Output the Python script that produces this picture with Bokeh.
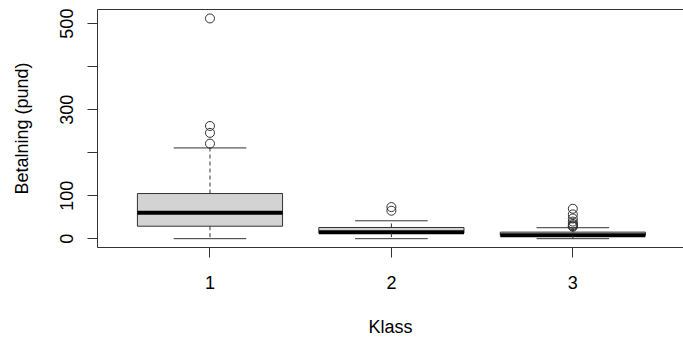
from bokeh.plotting import figure
from bokeh.models import FixedTicker, LinearAxis, Range1d
from bokeh.embed import file_html
from bokeh.resources import INLINE

# ---- data ----
klass = [1, 2, 3]
lower_whisker = [0.0, 0.0, 0.0]
q1 = [29.0, 13.0, 7.75]
median = [60.5, 15.0, 8.05]
q3 = [105.0, 26.0, 15.25]
upper_whisker = [211.0, 41.6, 25.5]
outliers_1 = [221.0, 246.0, 262.0, 512.0]
outliers_2 = [65.0, 73.5]
outliers_3 = [27.9, 29.1, 31.3, 34.4, 39.7, 46.9, 56.5, 69.6]
y_ticks = [0, 100, 200, 300, 400, 500]
y_tick_labels = {200: "", 400: ""}
x_tick_labels = {1: "1", 2: "2", 3: "3"}

FONT = "Liberation Sans"
LINE = "#333333"
TXT = "#000000"
BOX_W = 0.8
CAP_W = 0.4

p = figure(width=683, height=340, output_backend="svg", toolbar_location=None,
           x_range=Range1d(0.38, 3.61), y_range=Range1d(-20.5, 532.8),
           min_border_left=97, min_border_right=0, min_border_top=9,
           min_border_bottom=93)
p.outline_line_color = None
p.grid.visible = False
p.background_fill_color = "white"
p.border_fill_color = "white"

# boxes
p.vbar(x=klass, width=BOX_W, bottom=q1, top=q3, fill_color="#D3D3D3",
       line_color=LINE, line_width=1)
# medians
p.segment(x0=[k - BOX_W / 2 for k in klass], x1=[k + BOX_W / 2 for k in klass],
          y0=median, y1=median, line_color="black", line_width=4)
# whiskers (dashed)
p.segment(x0=klass, x1=klass, y0=q3, y1=upper_whisker, line_color=LINE,
          line_width=1, line_dash="4 3")
p.segment(x0=klass, x1=klass, y0=q1, y1=lower_whisker, line_color=LINE,
          line_width=1, line_dash="4 3")
# caps
p.segment(x0=[k - CAP_W / 2 for k in klass], x1=[k + CAP_W / 2 for k in klass],
          y0=upper_whisker, y1=upper_whisker, line_color=LINE, line_width=1)
p.segment(x0=[k - CAP_W / 2 for k in klass], x1=[k + CAP_W / 2 for k in klass],
          y0=lower_whisker, y1=lower_whisker, line_color=LINE, line_width=1)
# outliers
ox = [1] * len(outliers_1) + [2] * len(outliers_2) + [3] * len(outliers_3)
oy = outliers_1 + outliers_2 + outliers_3
p.scatter(x=ox, y=oy, marker="circle", size=9, fill_color=None,
          line_color=LINE, line_width=1)

# axes
xa = p.xaxis[0]
xa.ticker = FixedTicker(ticks=klass)
xa.major_label_overrides = x_tick_labels
xa.axis_label = "Klass"
ya = p.yaxis[0]
ya.ticker = FixedTicker(ticks=y_ticks)
ya.major_label_overrides = y_tick_labels
ya.major_label_orientation = "vertical"
ya.axis_label = "Betalning (pund)"

for ax in (xa, ya):
    ax.axis_line_color = LINE
    ax.major_tick_line_color = LINE
    ax.major_tick_in = 0
    ax.major_tick_out = 10
    ax.minor_tick_line_color = None
    ax.major_label_text_font = FONT
    ax.major_label_text_font_size = "18px"
    ax.major_label_text_color = TXT
    ax.axis_label_text_font = FONT
    ax.axis_label_text_font_size = "18px"
    ax.axis_label_text_font_style = "normal"
    ax.axis_label_text_color = TXT

xa.major_label_standoff = 18
xa.axis_label_standoff = 25
ya.major_label_standoff = 14
ya.axis_label_standoff = 26

top = LinearAxis(ticker=FixedTicker(ticks=[]), axis_line_color=LINE,
                 major_tick_line_color=None, minor_tick_line_color=None,
                 major_label_text_font_size="0px")
p.add_layout(top, "above")

open("out.html", "w").write(file_html(p, INLINE))
